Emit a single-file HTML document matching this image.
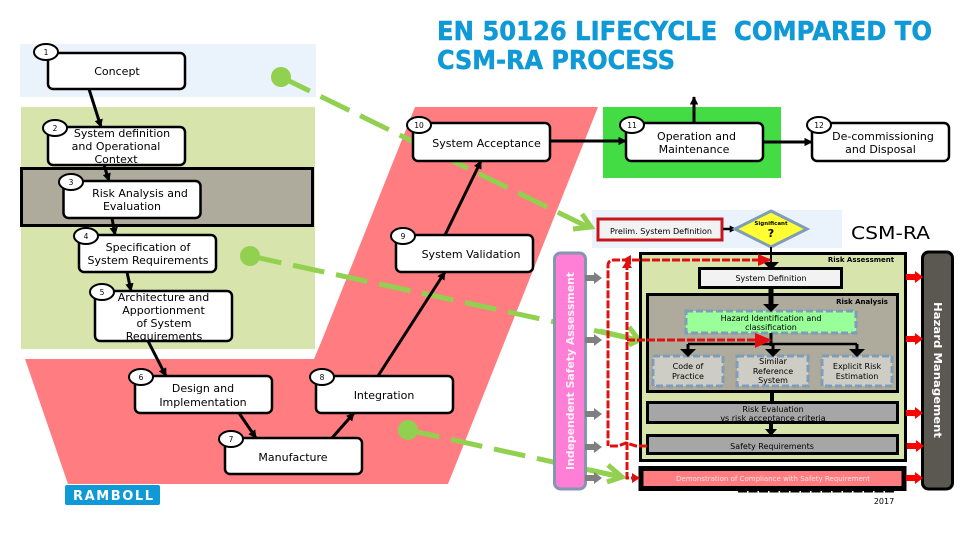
<!DOCTYPE html>
<html><head><meta charset="utf-8"><style>
html,body{margin:0;padding:0;background:#fff}
svg{display:block}
text{font-family:"DejaVu Sans","Liberation Sans",sans-serif}
.n{fill:#fff;stroke:#000;stroke-width:2.5}
.b{fill:#fff;stroke:#000;stroke-width:2}
.t{font-size:11px;text-anchor:middle;fill:#000}
.s{font-size:7.5px;text-anchor:middle;fill:#000}
.m{font-size:8px;text-anchor:middle;fill:#000}
.k{stroke:#000;fill:none}
.g{stroke:#92d050;stroke-width:5;fill:none;stroke-dasharray:32 12}
.r{stroke:#e01010;stroke-width:3;fill:none;stroke-dasharray:8 2}
.d{fill:#cdcdc5;stroke:#7f9db9;stroke-width:3;stroke-dasharray:7 3}
</style></head><body>
<svg width="960" height="540" viewBox="0 0 960 540" xmlns="http://www.w3.org/2000/svg">
<defs>
<marker id="a" viewBox="0 0 10 10" refX="9" refY="5" markerWidth="2.8" markerHeight="2.8" orient="auto"><path d="M0 0L10 5L0 10z" fill="#000"/></marker>
</defs>
<rect x="20" y="44" width="296" height="53" fill="#eaf3fb"/>
<rect x="21" y="107" width="294" height="242" fill="#d7e4ac"/>
<path d="M415 107H598L448 484H68L25 359H314L322 340z" fill="#ff7c80"/>
<rect x="603" y="107" width="178" height="71" fill="#44dc44"/>
<rect x="592" y="210" width="250" height="38" fill="#eaf3fb"/>
<rect x="21.5" y="168.5" width="291" height="57" fill="#aeab9c" stroke="#000" stroke-width="3"/>

<!-- green review links -->
<circle cx="281" cy="77" r="10" fill="#92d050"/>
<circle cx="250" cy="256" r="10" fill="#92d050"/>
<circle cx="408" cy="430" r="10" fill="#92d050"/>
<path class="g" d="M281 77L590 228"/>
<path d="M573 229L591 227L582 214" fill="none" stroke="#92d050" stroke-width="5"/>
<path class="g" d="M250 256L638 340"/>
<path d="M629 327L639 340L629 345" fill="none" stroke="#92d050" stroke-width="5"/>
<path d="M600 331L638 340" stroke="#92d050" stroke-width="5"/>
<path class="g" d="M408 430L621 477"/>
<path d="M608 465L622 477L607 482" fill="none" stroke="#92d050" stroke-width="5"/>
<path d="M590 470L621 477" stroke="#92d050" stroke-width="5"/>

<!-- black connectors -->
<g class="k" stroke-width="3">
<path d="M89 89L101 127" marker-end="url(#a)"/>
<path d="M104 165L109 181" marker-end="url(#a)"/>
<path d="M112 218L115 235" marker-end="url(#a)"/>
<path d="M127 272L131 291" marker-end="url(#a)"/>
<path d="M148 341L166 376" marker-end="url(#a)"/>
<path d="M239 413L256 438" marker-end="url(#a)"/>
<path d="M332 438L354 413" marker-end="url(#a)"/>
<path d="M378 376L445 272" marker-end="url(#a)"/>
<path d="M445 235L481 161" marker-end="url(#a)"/>
<path d="M550 141L626 141" marker-end="url(#a)"/>
<path d="M763 142L812 142" marker-end="url(#a)"/>
<path d="M694 123L694 97" marker-end="url(#a)"/>
</g>

<!-- nodes -->
<rect class="n" x="48" y="53" width="137" height="36" rx="5"/>
<rect class="n" x="48" y="127" width="137" height="38" rx="5"/>
<rect class="n" x="63.5" y="181" width="137" height="37" rx="5"/>
<rect class="n" x="79" y="235" width="137" height="37" rx="5"/>
<rect class="n" x="95" y="291" width="137" height="50" rx="5"/>
<rect class="n" x="135" y="376" width="137" height="37" rx="5"/>
<rect class="n" x="225" y="438" width="137" height="36" rx="5"/>
<rect class="n" x="316" y="376" width="137" height="37" rx="5"/>
<rect class="n" x="396" y="235" width="137" height="37" rx="5"/>
<rect class="n" x="413" y="123" width="137" height="38" rx="5"/>
<rect class="n" x="626" y="123" width="137" height="38" rx="5"/>
<rect class="n" x="812" y="123" width="137" height="38" rx="5"/>

<ellipse class="b" cx="46" cy="52" rx="12" ry="8"/>
<ellipse class="b" cx="55" cy="128" rx="12" ry="8"/>
<ellipse class="b" cx="71" cy="182" rx="12" ry="8"/>
<ellipse class="b" cx="86" cy="236" rx="12" ry="8"/>
<ellipse class="b" cx="102" cy="292" rx="12" ry="8"/>
<ellipse class="b" cx="141" cy="377" rx="12" ry="8"/>
<ellipse class="b" cx="231" cy="439" rx="12" ry="8"/>
<ellipse class="b" cx="322" cy="377" rx="12" ry="8"/>
<ellipse class="b" cx="403" cy="236" rx="12" ry="8"/>
<ellipse class="b" cx="419" cy="125" rx="12" ry="8"/>
<ellipse class="b" cx="632" cy="125" rx="12" ry="8"/>
<ellipse class="b" cx="819" cy="125" rx="12" ry="8"/>

<g class="s">
<text class="s" x="46" y="55">1</text><text class="s" x="55" y="131">2</text><text class="s" x="71" y="185">3</text>
<text class="s" x="86" y="239">4</text><text class="s" x="102" y="295">5</text><text class="s" x="141" y="380">6</text>
<text class="s" x="231" y="442">7</text><text class="s" x="322" y="380">8</text><text class="s" x="403" y="239">9</text>
<text class="s" x="419" y="128">10</text><text class="s" x="632" y="128">11</text><text class="s" x="819" y="128">12</text>
</g>

<text class="t" x="117" y="75">Concept</text>
<text class="t" x="122" y="137">System definition</text>
<text class="t" x="116" y="150">and Operational</text>
<text class="t" x="116" y="163">Context</text>
<text class="t" x="140" y="197">Risk Analysis and</text>
<text class="t" x="132" y="210">Evaluation</text>
<text class="t" x="148" y="251">Specification of</text>
<text class="t" x="148" y="264">System Requirements</text>
<text class="t" x="163.5" y="301">Architecture and</text>
<text class="t" x="163.5" y="314">Apportionment</text>
<text class="t" x="164" y="327">of System</text>
<text class="t" x="164" y="340">Requirements</text>
<text class="t" x="203" y="392">Design and</text>
<text class="t" x="203" y="406">Implementation</text>
<text class="t" x="293" y="461">Manufacture</text>
<text class="t" x="384" y="399">Integration</text>
<text class="t" x="471" y="258">System Validation</text>
<text class="t" x="486.5" y="147">System Acceptance</text>
<text class="t" x="696.5" y="140">Operation and</text>
<text class="t" x="694" y="153">Maintenance</text>
<text class="t" x="883" y="140">De-commissioning</text>
<text class="t" x="880.5" y="153">and Disposal</text>

<!-- title -->
<text x="437" y="40" font-size="25.5" font-weight="700" fill="#0f99d6" stroke="#0f99d6" stroke-width="0.5" textLength="495" lengthAdjust="spacingAndGlyphs" xml:space="preserve">EN 50126 LIFECYCLE  COMPARED TO</text>
<text x="437" y="69" font-size="25.5" font-weight="700" fill="#0f99d6" stroke="#0f99d6" stroke-width="0.5" textLength="238" lengthAdjust="spacingAndGlyphs">CSM-RA PROCESS</text>

<!-- CSM-RA -->
<text x="851" y="239" font-size="18" textLength="79" lengthAdjust="spacingAndGlyphs" fill="#000">CSM-RA</text>
<rect x="598" y="219" width="124" height="21" fill="#f2f2f2" stroke="#c8141c" stroke-width="3"/>
<text class="m" x="661" y="234" textLength="102" lengthAdjust="spacingAndGlyphs">Prelim. System Definition</text>
<path d="M723 229H736" class="k" stroke-width="2.5" marker-end="url(#a)"/>
<path d="M771 211L807 229L771 247L735 229z" fill="#ffff33" stroke="#7f9db9" stroke-width="3"/>
<text x="771" y="225" font-size="5.5" font-weight="700" text-anchor="middle">Significant</text>
<text x="771" y="237" font-size="11" font-weight="700" text-anchor="middle">?</text>

<!-- hidden text strip behind demo box -->
<path d="M738 491.5H895" stroke="#000" stroke-width="2" stroke-dasharray="9 1.5"/>

<!-- risk assessment -->
<rect x="640.5" y="253.5" width="265" height="207" fill="#d7e4ac" stroke="#000" stroke-width="3"/>
<rect x="699.5" y="268.5" width="142" height="19" fill="#f2f2f2" stroke="#000" stroke-width="3"/>
<rect x="647.5" y="294.5" width="250" height="97" fill="#aeab9c" stroke="#000" stroke-width="3"/>
<rect x="686" y="311" width="170" height="22" fill="#99ff99" stroke="#7f9db9" stroke-width="3" stroke-dasharray="7 3"/>
<rect class="d" x="653" y="356" width="70" height="30"/>
<rect class="d" x="737" y="356" width="71" height="30"/>
<rect class="d" x="822" y="356" width="70" height="30"/>
<rect x="647.5" y="402.5" width="250" height="20" fill="#a6a6a6" stroke="#000" stroke-width="3"/>
<rect x="647.5" y="435.5" width="250" height="18" fill="#a6a6a6" stroke="#000" stroke-width="3"/>
<rect x="641" y="468.5" width="263" height="20" fill="#ff7c80" stroke="#000" stroke-width="5"/>

<g fill="#000" stroke="#000">
<path d="M771 247V262" stroke-width="2"/><path d="M763 262H779L771 270z" stroke="none"/>
<path d="M771 288V305" stroke-width="5"/><path d="M763 304H779L771 312z" stroke="none"/>
<path d="M771 333V346" stroke-width="3"/>
<path d="M688 344H857" stroke-width="2.5"/>
<path d="M688 344V350M773 344V350M857 344V350" stroke-width="3"/>
<path d="M680 349H696L688 357zM765 349H781L773 357zM849 349H865L857 357z" stroke="none"/>
<path d="M772 392V402" stroke-width="4"/>
<path d="M771 423V430" stroke-width="4"/><path d="M765 429H777L771 436z" stroke="none"/>
</g>

<!-- red feedback -->
<path class="r" d="M770 260H614Q608 260 608 266V446"/>
<path class="r" d="M627 262V478H636"/>
<path class="r" d="M627 340H760"/>
<path d="M755 333L772 340L755 348z" fill="#e01010"/>
<path d="M758 254L772 260L758 266z" fill="#e01010"/>
<path d="M622 260L631 255V265z" fill="#e01010"/>
<path d="M622 268L627 260L632 268z" fill="#e01010"/>
<path d="M632 473L640 478L632 483z" fill="#e01010"/>
<path class="r" d="M647 446H636L626 443L618 446H608" stroke-width="3.5" stroke-dasharray="12 2"/>

<text class="s" x="861" y="262" font-weight="700" style="font-size:7px">Risk Assessment</text>
<text class="m" x="771" y="281">System Definition</text>
<text class="s" x="862" y="304" font-weight="700" style="font-size:7px">Risk Analysis</text>
<text class="m" x="771" y="321">Hazard Identification and</text>
<text class="m" x="771" y="330">classification</text>
<text class="m" x="688" y="369">Code of</text><text class="m" x="688" y="379">Practice</text>
<text class="m" x="773" y="364">Similar</text><text class="m" x="773" y="374">Reference</text><text class="m" x="773" y="383">System</text>
<text class="m" x="857" y="369">Explicit Risk</text><text class="m" x="857" y="379">Estimation</text>
<text class="m" x="773" y="412">Risk Evaluation</text><text class="m" x="773" y="421">vs risk acceptance criteria</text>
<text class="m" x="772" y="449">Safety Requirements</text>
<text class="s" x="773" y="481" style="fill:#ffe6ea;font-size:7px" textLength="194" lengthAdjust="spacingAndGlyphs">Demonstration of Compliance with Safety Requirement</text>
<text class="m" x="884" y="504">2017</text>

<!-- side bars -->
<rect x="554.5" y="253" width="31" height="236" rx="6" fill="#ff7fd6" stroke="#8496b0" stroke-width="3"/>
<text transform="translate(574,371) rotate(-90)" font-size="11" font-weight="700" text-anchor="middle" fill="#fff0fa" textLength="198" lengthAdjust="spacingAndGlyphs">Independent Safety Assessment</text>
<rect x="922.5" y="252" width="30" height="237" rx="6" fill="#5a5850" stroke="#000" stroke-width="3"/>
<text transform="translate(934,370) rotate(90)" font-size="11" font-weight="700" text-anchor="middle" fill="#fff" textLength="136" lengthAdjust="spacingAndGlyphs">Hazard Management</text>

<g fill="#7f7f7f">
<path d="M585 275H594V272L602 278L594 284V281H585z"/>
<path d="M585 337H594V334L602 340L594 346V343H585z"/>
<path d="M585 411H594V408L602 414L594 420V417H585z"/>
<path d="M585 444H594V441L602 447L594 453V450H585z"/>
<path d="M585 475H594V472L602 478L594 484V481H585z"/>
</g>
<g fill="#f00">
<path d="M906 274H915V271L923 277L915 283V280H906z"/>
<path d="M906 336H915V333L923 339L915 345V342H906z"/>
<path d="M906 410H915V407L923 413L915 419V416H906z"/>
<path d="M907 443H916V440L924 446L916 452V449H907z"/>
<path d="M906 475H915V472L923 478L915 484V481H906z"/>
</g>

<!-- logo -->
<rect x="65" y="485" width="95" height="20" rx="2" fill="#0f99d6"/>
<text x="73" y="500" font-size="13" font-weight="700" fill="#fff" textLength="80" lengthAdjust="spacing">RAMBOLL</text>
</svg>
</body></html>
